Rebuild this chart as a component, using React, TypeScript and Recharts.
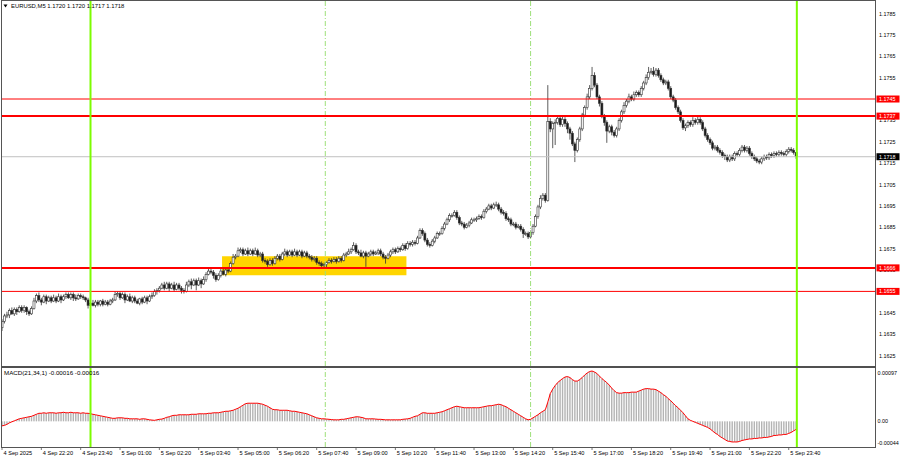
import React from 'react';
import { ComposedChart, Bar, Line, XAxis, YAxis, ReferenceLine, ReferenceArea } from 'recharts';

// ---------- DATA ----------
const SYMBOL_TITLE = 'EURUSD,M5  1.1720 1.1720 1.1717 1.1718';
const MACD_TITLE = 'MACD(21,34,1) -0.00016 -0.00016';

// prices are stored in pips above 1.1600 (e.g. 45 = 1.1645)
const PRICE_BASE = 1.16;
const FIRST_OPEN = 38;

// M5 candles from 4 Sep 21:00: [close, upper wick, lower wick] (pips)
const candlesEvening = [
  [41,1,1.5],[43.5,1,1],[44,1.5,1],[46,1,1.5],[44.5,1.5,0.5],[46.5,1,1],[45.5,1,1.5],[47.5,1,0.5],[46,1,1],[47.5,1,1],
  [45.5,0.5,1.5],[44.5,1,1],[47,1,0.5],[50.5,1.5,0.5],[53,1,1],[51,1.5,1],[50,1,1.5],[52.5,1,0.5],[50.5,1,1.5],[52,1,0.5],
  [50.5,1,1],[52,1.5,0.5],[50.5,1,1],[52.5,1.5,0.5],[51,1,1.5],[52.5,1,0.5],[53.5,1,1],[52,1,0.5],[53.5,1,1],[52,1,1.5],
  [51.5,1.5,1],[53,1,0.5],[52.5,1,1],[52,1,1],[51,0.5,1],[48.5,1,1.5],[49.5,1,1],[48.5,1.5,0.5],[50,1,1],[49,1,1],
  [50.5,0.5,1],[49,1,1],[50,1,0.5],[49,1,1],[50.5,1,0.5],[51,1,1],[53.5,1.5,0.5],[54,1,1],[52,1,1],[53.5,1,0.5],
  [51,1,1.5],[52.5,1,0.5],[50.5,1.5,0.5],[52,1,1],
];
const candlesNight = [
  [50.5,1,1],[49.5,1,0.5],[51.5,0.5,1],[50,1,1],[52,1,0.5],[50.5,1,1.5],[52.5,1,0.5],[53,1.5,1],[55,1,0.5],[55.5,1,1.5],
  [56.5,1,1],[58,1,0.5],[56.5,1.5,1],[58.5,1,0.5],[56.5,1,1.5],[58,1,0.5],[56,1.5,1],[58,1,0.5],[56.5,1,1],[55.5,1,1.5],
  [55,1,1],[58,1.5,0.5],[59.5,1,1],[58,1.5,2],[60,1,0.5],[58,1,2.5],[60,1.5,0.5],[58.5,1,2],[60.5,1.5,0.5],[63,1,1],
  [64.5,1.5,0.5],[64,1,1],[62.5,1,1.5],[60.5,1,1],[62.5,1,0.5],[64.5,1,1],[63,1.5,0.5],[65,1,1],[64.5,1.5,1],[68,1,0.5],
  [71,1.5,0.5],[71.5,1,1],[74,1.5,0.5],[74.5,1,1],[72.5,1,1],[74,1,0.5],[72.5,1.5,1],[74,1,0.5],[72.5,1,1],[74,1.5,0.5],
  [72,1,1],[72.5,1,1],[69.5,1,1],[69,1,1],
];
const candlesMorning = [
  [67.5,1,1],[69.5,1,0.5],[68,1,1],[70.5,1,0.5],[71.5,1,1],[70,1,1],[72.5,1,0.5],[73.5,1.5,1],[72,1,1],[73.5,1,0.5],
  [72,1,1],[73.5,1.5,0.5],[72,1,1],[73.5,1,0.5],[71.5,1,1],[73,1,0.5],[71.5,1,1],[71,1,1],[70,1,1],[70.5,1,1],
  [68.5,1,1],[68,1,1],[67,1,1.5],[67.5,1,1],[68.5,0.5,2],[69.5,1,0.5],[69,1,1],[70,1,0.5],[69,1,1],[70.5,1,0.5],
  [69.5,1,1],[72,1,0.5],[72.5,1,1],[73.5,1.5,0.5],[74.5,1,1],[76.5,1.5,0.5],[73.5,1,1],[73,1,1],[71.5,1.5,0.5],[73,1,1],
  [71.5,1,5],[72.5,1,0.5],[73.5,1,1],[72.5,1,1],[73,1,0.5],[74,1,1],[72.5,1,1],[71,1,1],[70.5,1,2.5],[72,1,0.5],
  [73.5,1,1],[74.5,1,1],[73.5,1,1],[75,1,0.5],
];
const candlesMidday = [
  [74.5,1,1],[76.5,1,0.5],[75,1,1],[77.5,1,0.5],[77,1,1],[78,1,1],[77.5,1,1],[80,1,0.5],[83.5,1,0.5],[82,1,1],
  [79,1,1],[77,1,1],[76.5,1,1],[78.5,1,0.5],[80,1,1],[82,1,0.5],[82,1,1],[84.5,1,0.5],[86.5,1,1],[88.5,1,0.5],
  [90.5,1,1],[90.5,1,1],[92,1,0.5],[89.5,1,1],[87,1,1],[86.5,1,1],[85,1,1],[86,1,0.5],[87,1,1],[88.5,1,0.5],
  [88.5,1,1],[89,1,1],[90,1,0.5],[89.5,1,1],[92.5,1,0.5],[93.5,1,1],[95,1,0.5],[94,1,1],[95.5,1,0.5],[95.5,1.5,1],
  [93.5,1,1],[92,1,1],[91.5,1,1],[89,1,1],[88.5,1,1],[86.5,1,1],[86.5,1,1],[85,1,1],[85.5,1,0.5],[84,1,1],
  [82,1,2],[82,1,1],[80.5,1,1],[82.5,1,0.5],
];
const candlesAfternoon = [
  [85.5,1,1],[90,1,0.5],[94.5,1,1],[98.5,1.5,1],[100,1,1],[97.5,1,1],[134.5,17,0.5],[131,1.5,1.5],[133.5,1,9],[134,1.5,10],
  [136,1,1],[133,1,1],[135.5,1.5,1],[133.5,1,1.5],[131,1,2],[129,1,3],[124,1,1],[121,1,5.5],[126,1,1],[131,1,1],
  [137.5,1,1],[141,1,1],[146,1.5,1],[150,1.5,1],[156,4,1],[151.5,1.5,1],[146,1,1],[143,1,1.5],[137,1,1],[134,1,1.5],
  [130,1,5.5],[132,1,1],[129.5,1,1.5],[128,1,1],[131,1,1],[135,1,1],[139,1,1],[142,1.5,1],[144,1,1],[146,1.5,1],
  [145,1,1],[147,1.5,1],[148,1,1],[147,1,1],[150,1,1],[152.5,1,1],[155,1.5,1],[157.5,2.5,1],[158,1.5,1],[156.5,2,1],
  [158.5,1,1],[156,1,1],[154,1,1],[152.5,1,1],
];
const candlesEveningFri = [
  [153,1,1],[150,1,1],[146,1,1],[144.5,1,1],[141,1,1],[139,1,1],[135,1,1],[131.5,1,1],[132.5,1,1.5],[134,1,1],
  [133,1,1],[135,1.5,1],[134,1,1],[135.5,2,1],[134,1,1],[131,1,1],[128,1,1],[126,1,1],[124.5,1,1],[122,1,1],
  [122.5,1,1],[121,1,1],[120,1,1],[118.5,1,1],[118,1,1.5],[116.5,1,1],[118,1,1],[117,1,1],[119.5,1,1],[119,1,1],
  [121,1,1],[122.5,1,1],[121,1,1],[122,1,1],[119.5,1,1],[118,1,1],[117,1,1],[116,1,1],[115.5,1,1],[117,1,1],
  [118,1,1],[117.5,1,1],[119,1,1],[118.5,1,1],[119.5,1,1],[119,1,1],[120,1,1],[119.5,1,1],[119,1,1],[120.5,1,1],
  [121.5,1,1],[121,1,1],[120,1,1],[118,0,1],
];

// MACD(21,34,1) main value per bar, in units of 0.00001
const macdEvening = [
  -9,-8,-6,-3,-1,1,3,5,6,7, 8,9,10,12,14,16,16,17,16,17, 17,17,16,17,17,18,17,17,18,17,
  17,17,16,17,16,16,15,14,13,12, 11,10,9,8,7,6,6,7,7,7, 6,6,5,5,
];
const macdNight = [
  5,5,4,5,5,4, 3,2.5,2,3,4,4.5,6,8,9,11, 12,12,13,13,13,13,13,14,14,14, 15,15,15,15,16,16,17,17,17,18,
  19,20,20,21,22,24,26,29,32,35, 36,36,36,36,36,35,34,32,
];
const macdMorning = [
  30,27, 24,23,23,22,22,22,22,21,20,20, 19,18,17,16,15,13,11,9,7,6, 5,5,4.5,4,3.5,3,3,3,4,4,
  5,6,7,8,9,9,8,7,5,5, 5,5,4.5,4,4,3.5,3,3,3,3, 3,3,
];
const macdMidday = [
  3,4,4.5,5,6,8,10,11, 14,17,17,16,16,16,16,17,18,19, 21,23,25,27,29,30,29,28,27,27,
  27,27,27,27,27,28,29,30,31,31, 32,33,34,33,31,29,26,23,20,17, 14,11,8,5,3,4,
];
const macdAfternoon = [
  7,10,13,17, 20,23,38,55,64,71,77,81,85,88, 89,87,83,80,80,83,87,92,96,99,
  100,98,95,90,85,81,77,72,66,61, 57,56,56,57,57,57,58,58,58,60, 62,64,65,65,64,64,63,60,57,53,
];
const macdEveningFri = [
  50,45,41,36,31,27,22,17,11,5, 2,0,-2,-4,-6,-8,-10,-12,-15,-19, -23,-26,-30,-33,-36,-39,-40,-41,-41,-41,
  -40,-38,-37,-36,-35,-35,-34,-34,-33,-33, -32,-32,-31,-30,-28,-28,-27,-27,-26,-26, -24,-22,-19,-16,
];

const timeLabels = [
  '4 Sep 2025', '4 Sep 22:20', '4 Sep 23:40', '5 Sep 01:00', '5 Sep 02:20', '5 Sep 03:40', '5 Sep 05:00',
  '5 Sep 06:20', '5 Sep 07:40', '5 Sep 09:00', '5 Sep 10:20', '5 Sep 11:40', '5 Sep 13:00', '5 Sep 14:20',
  '5 Sep 15:40', '5 Sep 17:00', '5 Sep 18:20', '5 Sep 19:40', '5 Sep 21:00', '5 Sep 22:20', '5 Sep 23:40',
];
const BARS_PER_LABEL = 16;

const priceTicks = [25, 35, 45, 55, 65, 75, 85, 95, 105, 115, 125, 135, 145, 155, 165, 175, 185];
const thinLevels = [145, 55];      // 1.1745, 1.1655
const thickLevels = [137, 66];     // 1.1737, 1.1666
const currentPrice = 118;          // 1.1718
const dayMarks = [36, 323.3];      // 5 Sep 00:00 and end of day
const sessionMarks = [131.5, 215]; // session opens
const zoneBars = [89.5, 164.5];
const zonePips = [62.5, 71.5];
const macdTicks = [97, 0, -44];

// ---------- BUILD ----------
const allCandles = [
  ...candlesEvening, ...candlesNight, ...candlesMorning,
  ...candlesMidday, ...candlesAfternoon, ...candlesEveningFri,
];
const allMacd = [
  ...macdEvening, ...macdNight, ...macdMorning,
  ...macdMidday, ...macdAfternoon, ...macdEveningFri,
];
const rows = allCandles.map((k, i) => {
  const o = i === 0 ? FIRST_OPEN : allCandles[i - 1][0];
  const c = k[0];
  return { i, o, c, h: Math.max(o, c) + k[1], l: Math.min(o, c) - k[2], macd: allMacd[i] };
});
const timeTickIdx = timeLabels.map((_, k) => k * BARS_PER_LABEL);

const FONT = '"Liberation Sans", Arial, sans-serif';
const fmtPrice = (v: number) => (PRICE_BASE + v / 10000).toFixed(4);
const fmtMacd = (v: number) => (v === 0 ? '0.00' : (v / 100000).toFixed(5));

const redBadges = [...thinLevels, ...thickLevels];
const yTicks = [...priceTicks, 137, 66, 118];

const CandleShape = (p: any) => {
  const { x, y, width, height, payload } = p;
  if (!payload || x == null) return null;
  const cx = x + (width || 0) / 2;
  const top = Math.min(y, y + height);
  const hh = Math.abs(height);
  const span = payload.h - payload.l || 1;
  const Y = (v: number) => top + ((payload.h - v) / span) * hh;
  const yo = Y(payload.o);
  const yc = Y(payload.c);
  const bull = payload.c >= payload.o;
  const bt = Math.min(yo, yc);
  const bh = Math.max(0.8, Math.abs(yo - yc));
  return (
    <g>
      <line x1={cx} x2={cx} y1={top} y2={top + hh} stroke="#333" strokeWidth={0.8} />
      <rect x={cx - 1} y={bt} width={2} height={bh} fill={bull ? '#ffffff' : '#1a1a1a'} stroke="#333" strokeWidth={0.6} />
    </g>
  );
};

const HistShape = (p: any) => {
  const { x, y, width, height } = p;
  if (x == null || y == null) return null;
  const cx = x + (width || 0) / 2;
  const top = Math.min(y, y + height);
  const hh = Math.abs(height);
  return <rect x={cx - 0.7} y={top} width={1.4} height={Math.max(hh, 0.01)} fill="#b4b4b4" />;
};

const PriceTick = (p: any) => {
  const { x, y, payload } = p;
  const v = payload.value;
  const label = fmtPrice(v);
  if (redBadges.includes(v) || v === currentPrice) {
    return (
      <g>
        <rect x={x + 0.5} y={y - 3.5} width={23} height={7} fill={v === currentPrice ? '#000000' : '#ff0000'} />
        <text x={x + 3} y={y + 2} fill="#ffffff" fontSize={5.4} fontFamily={FONT}>{label}</text>
      </g>
    );
  }
  return <text x={x + 3} y={y + 2} fill="#000000" fontSize={5.4} fontFamily={FONT}>{label}</text>;
};

const MacdTick = (p: any) => {
  const { x, y, payload } = p;
  return <text x={x + 1.5} y={y + 2} fill="#000000" fontSize={5.4} fontFamily={FONT}>{fmtMacd(payload.value)}</text>;
};

const TimeTick = (p: any) => {
  const { x, y, payload } = p;
  const k = Math.round(payload.value / BARS_PER_LABEL);
  return (
    <g>
      <line x1={x} x2={x} y1={y} y2={y + 3} stroke="#555" strokeWidth={0.8} />
      <text x={x + 1.5} y={y + 7.5} fill="#000000" fontSize={5.6} fontFamily={FONT}>{timeLabels[k]}</text>
    </g>
  );
};

const X_DOMAIN: [number, number] = [0, 355.5];

export default function App() {
  return (
    <div style={{ position: 'fixed', left: 0, top: 0, width: 900, height: 460, background: '#ffffff', overflow: 'hidden' }}>
      <div style={{ position: 'absolute', left: 0, top: 0 }}>
        <ComposedChart width={900} height={368} data={rows} margin={{ top: 1, right: 0, bottom: 2, left: 2 }}>
          <XAxis dataKey="i" type="number" domain={X_DOMAIN} allowDataOverflow hide />
          <YAxis
            orientation="right" width={24} domain={[20.1, 190.85]} allowDataOverflow
            ticks={yTicks} interval={0} tick={<PriceTick />} tickSize={0} tickMargin={0}
            axisLine={false} tickLine={false}
          />
          <ReferenceArea x1={zoneBars[0]} x2={zoneBars[1]} y1={zonePips[0]} y2={zonePips[1]} fill="#ffd500" fillOpacity={1} stroke="none" />
          <ReferenceLine y={currentPrice} stroke="#c0c0c0" strokeWidth={1} />
          {sessionMarks.map((m) => (
            <ReferenceLine key={'s' + m} x={m} stroke="#9ee07a" strokeWidth={1} strokeDasharray="5 2 1 2" />
          ))}
          <Bar dataKey={(d: any) => [d.l, d.h]} shape={CandleShape} isAnimationActive={false} />
          {thinLevels.map((v) => (
            <ReferenceLine key={'t' + v} y={v} stroke="#ff0000" strokeWidth={1} />
          ))}
          {thickLevels.map((v) => (
            <ReferenceLine key={'k' + v} y={v} stroke="#ff0000" strokeWidth={2} />
          ))}
          {dayMarks.map((m) => (
            <ReferenceLine key={'d' + m} x={m} stroke="#7cfc00" strokeWidth={2} />
          ))}
        </ComposedChart>
      </div>
      <div style={{ position: 'absolute', left: 0, top: 368 }}>
        <ComposedChart width={900} height={92} data={rows} margin={{ top: 0, right: 0, bottom: 0, left: 2 }}>
          <XAxis
            dataKey="i" type="number" domain={X_DOMAIN} allowDataOverflow height={13}
            ticks={timeTickIdx} interval={0} tick={<TimeTick />} tickSize={0} tickMargin={0}
            axisLine={false} tickLine={false}
          />
          <YAxis
            orientation="right" width={24} domain={[-51, 106]} allowDataOverflow
            ticks={macdTicks} interval={0} tick={<MacdTick />} tickSize={0} tickMargin={0}
            axisLine={false} tickLine={false}
          />
          {sessionMarks.map((m) => (
            <ReferenceLine key={'s' + m} x={m} stroke="#9ee07a" strokeWidth={1} strokeDasharray="5 2 1 2" />
          ))}
          <Bar dataKey="macd" shape={HistShape} isAnimationActive={false} />
          <Line dataKey="macd" type="linear" stroke="#ff0000" strokeWidth={1} dot={false} isAnimationActive={false} />
          {dayMarks.map((m) => (
            <ReferenceLine key={'d' + m} x={m} stroke="#7cfc00" strokeWidth={2} />
          ))}
        </ComposedChart>
      </div>
      <svg width={900} height={460} style={{ position: 'absolute', left: 0, top: 0, pointerEvents: 'none' }}>
        <line x1={1} x2={876} y1={0.5} y2={0.5} stroke="#555" strokeWidth={1} />
        <line x1={1.5} x2={1.5} y1={0} y2={448} stroke="#555" strokeWidth={1} />
        <line x1={875.5} x2={875.5} y1={0} y2={448} stroke="#555" strokeWidth={1} />
        <rect x={1} y={366} width={875} height={2} fill="#505050" />
        <line x1={1} x2={876} y1={447.5} y2={447.5} stroke="#555" strokeWidth={1} />
        <polygon points="3.5,4.5 7.5,4.5 5.5,7.5" fill="#000" />
        <text x={11} y={8} fontSize={5.9} fontFamily={FONT} fill="#000">{SYMBOL_TITLE}</text>
        <text x={4} y={375} fontSize={6.2} fontFamily={FONT} fill="#000">{MACD_TITLE}</text>
      </svg>
    </div>
  );
}
